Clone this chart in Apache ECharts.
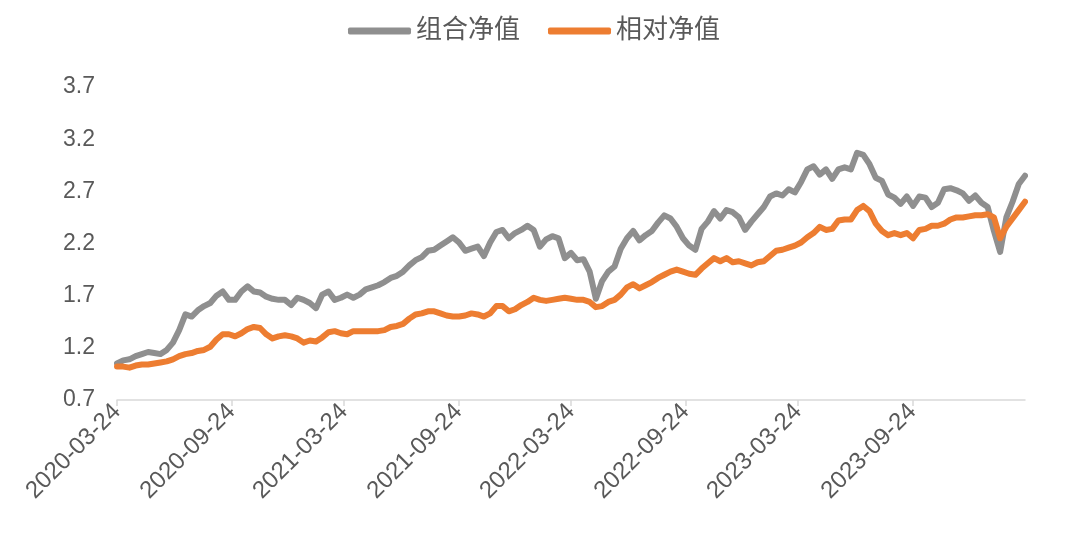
<!DOCTYPE html>
<html>
<head>
<meta charset="utf-8">
<script src="https://cdn.jsdelivr.net/npm/echarts@6/dist/echarts.min.js"></script>
<style>
html,body{margin:0;padding:0;background:#fff;}
#chart{width:1068px;height:534px;}
</style>
</head>
<body>
<div id="chart"></div>
<script>
// ---- data ----
const seriesNames = ['组合净值', '相对净值'];
const startDate = '2020-03-24';   // first sample date
const stepDays = 10;              // spacing of the samples
const tickDates = ['2020-03-24', '2020-09-24', '2021-03-24', '2021-09-24',
                   '2022-03-24', '2022-09-24', '2023-03-24', '2023-09-24'];
const yTicks = { min: 0.7, max: 3.7, step: 0.5 };

const portfolioNav = [
  1.05,1.08,1.09,1.12,1.14,1.16,1.15,1.14,1.18,1.25,
  1.37,1.52,1.50,1.56,1.60,1.63,1.70,1.74,1.66,1.66,
  1.74,1.79,1.74,1.73,1.69,1.67,1.66,1.66,1.61,1.68,
  1.66,1.63,1.58,1.71,1.74,1.66,1.68,1.71,1.68,1.71,
  1.76,1.78,1.80,1.83,1.87,1.89,1.93,1.99,2.04,2.07,
  2.13,2.14,2.18,2.22,2.26,2.21,2.13,2.15,2.17,2.08,
  2.21,2.31,2.33,2.25,2.30,2.33,2.37,2.33,2.17,2.24,
  2.27,2.25,2.06,2.11,2.04,2.05,1.93,1.67,1.84,1.93,
  1.98,2.15,2.25,2.32,2.23,2.28,2.32,2.40,2.47,2.44,
  2.36,2.25,2.18,2.14,2.34,2.41,2.51,2.44,2.52,2.50,
  2.45,2.33,2.41,2.48,2.55,2.65,2.68,2.66,2.72,2.69,
  2.79,2.91,2.94,2.86,2.91,2.82,2.91,2.93,2.91,3.07,
  3.05,2.96,2.83,2.80,2.67,2.64,2.58,2.65,2.56,2.65,
  2.64,2.55,2.59,2.72,2.73,2.71,2.68,2.61,2.66,2.59,
  2.55,2.32,2.12,2.45,2.60,2.77,2.85
];
const relativeNav = [
  1.02,1.02,1.01,1.03,1.04,1.04,1.05,1.06,1.07,1.09,
  1.12,1.14,1.15,1.17,1.18,1.21,1.28,1.33,1.33,1.31,
  1.34,1.38,1.40,1.39,1.33,1.29,1.31,1.32,1.31,1.29,
  1.25,1.27,1.26,1.30,1.35,1.36,1.34,1.33,1.36,1.36,
  1.36,1.36,1.36,1.37,1.40,1.41,1.43,1.48,1.52,1.53,
  1.55,1.55,1.53,1.51,1.50,1.50,1.51,1.53,1.52,1.50,
  1.53,1.60,1.60,1.55,1.57,1.61,1.64,1.68,1.66,1.65,
  1.66,1.67,1.68,1.67,1.66,1.66,1.64,1.59,1.60,1.64,
  1.66,1.71,1.78,1.81,1.77,1.80,1.83,1.87,1.90,1.93,
  1.95,1.93,1.91,1.90,1.96,2.01,2.06,2.03,2.06,2.02,
  2.03,2.01,1.99,2.02,2.03,2.08,2.13,2.14,2.16,2.18,
  2.21,2.26,2.30,2.36,2.33,2.34,2.42,2.43,2.43,2.52,
  2.56,2.51,2.39,2.32,2.28,2.30,2.28,2.30,2.25,2.33,
  2.34,2.37,2.37,2.39,2.43,2.45,2.45,2.46,2.47,2.47,
  2.48,2.45,2.25,2.36,2.44,2.52,2.60
];

// ---- helpers ----
function parseDay(s, addDays) {
  const p = s.split('-').map(Number);
  return new Date(p[0], p[1] - 1, p[2] + (addDays || 0)).getTime();
}
function fmtDay(ts) {
  const d = new Date(ts);
  const mm = String(d.getMonth() + 1).padStart(2, '0');
  const dd = String(d.getDate()).padStart(2, '0');
  return d.getFullYear() + '-' + mm + '-' + dd;
}
const sampleDates = portfolioNav.map((_, i) => parseDay(startDate, i * stepDays));
const tickTs = tickDates.map(s => parseDay(s));

const textColor = '#595959';
const fontFamily = "'Liberation Sans', 'Noto Sans CJK SC', sans-serif";

const chart = echarts.init(document.getElementById('chart'));
chart.setOption({
  animation: false,
  textStyle: { fontFamily: fontFamily },
  legend: {
    top: 13,
    left: 'center',
    icon: 'roundRect',
    itemWidth: 63,
    itemHeight: 7,
    itemGap: 28,
    textStyle: { fontSize: 26, color: textColor, fontFamily: fontFamily },
    data: seriesNames
  },
  grid: { left: 117, right: 43, top: 87, bottom: 134, containLabel: false },
  xAxis: {
    type: 'value',
    min: sampleDates[0],
    max: sampleDates[sampleDates.length - 1],
    axisLine: { show: true, lineStyle: { color: '#d9d9d9', width: 1.5 } },
    axisTick: { show: true, customValues: tickTs, length: 6, lineStyle: { color: '#d9d9d9', width: 1.5 } },
    axisLabel: {
      customValues: tickTs,
      rotate: 45,
      margin: 8,
      fontSize: 24,
      color: textColor,
      formatter: v => fmtDay(v)
    },
    splitLine: { show: false }
  },
  yAxis: {
    type: 'value',
    min: yTicks.min,
    max: yTicks.max,
    interval: yTicks.step,
    axisLine: { show: false },
    axisTick: { show: false },
    splitLine: { show: false },
    axisLabel: { fontSize: 23, color: textColor, margin: 22, formatter: v => v.toFixed(1) }
  },
  series: [
    {
      name: seriesNames[0], type: 'line', showSymbol: false, symbol: 'none',
      color: '#8f8f8f',
      lineStyle: { width: 6, color: '#8f8f8f', cap: 'round', join: 'round' },
      data: sampleDates.map((t, i) => [t, portfolioNav[i]])
    },
    {
      name: seriesNames[1], type: 'line', showSymbol: false, symbol: 'none',
      color: '#ed7d31',
      lineStyle: { width: 6, color: '#ed7d31', cap: 'round', join: 'round' },
      data: sampleDates.map((t, i) => [t, relativeNav[i]])
    }
  ]
});
</script>
</body>
</html>
